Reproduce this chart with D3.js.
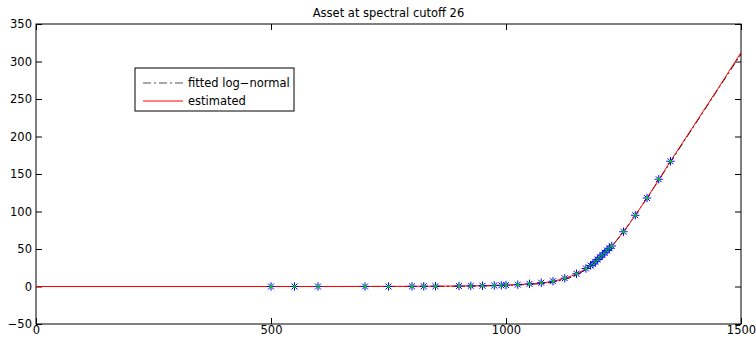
<!DOCTYPE html>
<html>
<head>
<meta charset="utf-8">
<script src="https://cdn.jsdelivr.net/npm/d3@7"></script>
<style>
  body { margin: 0; background: #fff; }
  text { font-family: "DejaVu Sans", "Liberation Sans", Arial, sans-serif; font-size: 11.5px; fill: #000; }
</style>
</head>
<body>
<svg id="chart"></svg>
<script>
// curve samples (strike, value)
const curveX = [0, 100, 200, 300, 400, 500, 600, 700, 800, 900, 950, 1000, 1050, 1100, 1150, 1175, 1200, 1225, 1250, 1275, 1300, 1350, 1400, 1450, 1500];
const estimatedY = [0, 0, 0, 0, 0, 0, 0, 0.1, 0.2, 0.6, 1, 1.9, 3.5, 7, 17, 26, 39, 54, 73, 95, 118, 167, 215, 263, 312];
const fittedY = [0, 0, 0, 0, 0, 0, 0, 0.05, 0.1, 0.4, 0.8, 1.5, 2.9, 6, 15.5, 25, 38.5, 54, 73, 95, 118, 166, 214, 262, 310];

// observed points
const obsX = [500, 550, 600, 700, 750, 800, 825, 850, 900, 925, 950, 975, 990, 1000, 1025, 1050, 1075, 1100, 1125, 1150,
              1170, 1180, 1185, 1190, 1195, 1200, 1205, 1210, 1215, 1220, 1225, 1250, 1275, 1300, 1325, 1350];
const obsY = [0, 0, 0, 0, 0, 0.2, 0.3, 0.4, 0.6, 0.8, 1, 1.3, 1.6, 1.9, 2.5, 3.5, 5, 7, 11, 17,
              24, 28, 30, 33, 36, 39, 42, 45, 48, 51, 54, 73, 95, 118, 143, 167];

const xTicks = [0, 500, 1000, 1500];
const yTicks = [-50, 0, 50, 100, 150, 200, 250, 300, 350];
const title = 'Asset at spectral cutoff 26';
const legendLabels = ['fitted log\u2212normal', 'estimated'];

const W = 756, H = 338;
const margin = { left: 36, right: 15, top: 24, bottom: 14 };
const width = W - margin.left - margin.right;
const height = H - margin.top - margin.bottom;

const svg = d3.select('#chart').attr('width', W).attr('height', H);
const g = svg.append('g').attr('transform', `translate(${margin.left},${margin.top})`);

const x = d3.scaleLinear().domain([0, 1500]).range([0, width]);
const y = d3.scaleLinear().domain([-50, 350]).range([height, 0]);

const fmt = d => d < 0 ? '\u2212' + Math.abs(d) : String(d);

// axes with inward ticks on all four sides
const tickLen = 6;
g.append('g').attr('transform', `translate(0,${height})`)
  .call(d3.axisBottom(x).tickValues(xTicks).tickSize(-tickLen).tickPadding(2).tickFormat(fmt));
g.append('g')
  .call(d3.axisTop(x).tickValues(xTicks).tickSize(-tickLen).tickFormat(''));
g.append('g')
  .call(d3.axisLeft(y).tickValues(yTicks).tickSize(-tickLen).tickPadding(4).tickFormat(fmt));
g.append('g').attr('transform', `translate(${width},0)`)
  .call(d3.axisRight(y).tickValues(yTicks).tickSize(-tickLen).tickFormat(''));
g.selectAll('.domain').remove();
g.selectAll('.tick line').attr('stroke', '#000');
g.selectAll('.tick text')
  .style('font-family', '"DejaVu Sans", sans-serif')
  .style('font-size', '11.5px').attr('fill', '#000');

g.append('rect')
  .attr('width', width).attr('height', height)
  .attr('fill', 'none').attr('stroke', '#000').attr('stroke-width', 1);

// lines
const line = d3.line().x(d => x(d[0])).y(d => y(d[1])).curve(d3.curveMonotoneX);
g.append('path')
  .datum(curveX.map((v, i) => [v, fittedY[i]]))
  .attr('d', line)
  .attr('fill', 'none').attr('stroke', '#000').attr('stroke-width', 1)
  .attr('stroke-dasharray', '8,3,2,3');
g.append('path')
  .datum(curveX.map((v, i) => [v, estimatedY[i]]))
  .attr('d', line)
  .attr('fill', 'none').attr('stroke', '#ff0000').attr('stroke-width', 1);

// markers: blue asterisk with green dot
const r = 4.2;
const star = `M${-r},0H${r}M0,${-r}V${r}M${-r * 0.7},${-r * 0.7}L${r * 0.7},${r * 0.7}M${-r * 0.7},${r * 0.7}L${r * 0.7},${-r * 0.7}`;
const pts = g.append('g').selectAll('g')
  .data(obsX.map((v, i) => [v, obsY[i]]))
  .join('g')
  .attr('transform', d => `translate(${x(d[0])},${y(d[1])})`);
pts.append('path').attr('d', star).attr('stroke', '#0000ff').attr('stroke-width', 1).attr('fill', 'none');
pts.append('circle').attr('r', 1.6).attr('fill', '#00cc00');

// title
svg.append('text')
  .attr('x', margin.left + width / 2).attr('y', 16.5)
  .attr('text-anchor', 'middle')
  .text(title);

// legend
const lg = svg.append('g').attr('transform', 'translate(135,68)');
lg.append('rect').attr('width', 159).attr('height', 43)
  .attr('fill', '#fff').attr('stroke', '#000').attr('stroke-width', 1);
const rows = [
  { label: legendLabels[0], stroke: '#555', dash: '8,3,2,3', yy: 15 },
  { label: legendLabels[1], stroke: '#ff0000', dash: null, yy: 33 }
];
rows.forEach(rw => {
  lg.append('line').attr('x1', 8).attr('x2', 48).attr('y1', rw.yy).attr('y2', rw.yy)
    .attr('stroke', rw.stroke).attr('stroke-width', 1)
    .attr('stroke-dasharray', rw.dash);
  lg.append('text').attr('x', 53).attr('y', rw.yy + 4).text(rw.label);
});
</script>
</body>
</html>
